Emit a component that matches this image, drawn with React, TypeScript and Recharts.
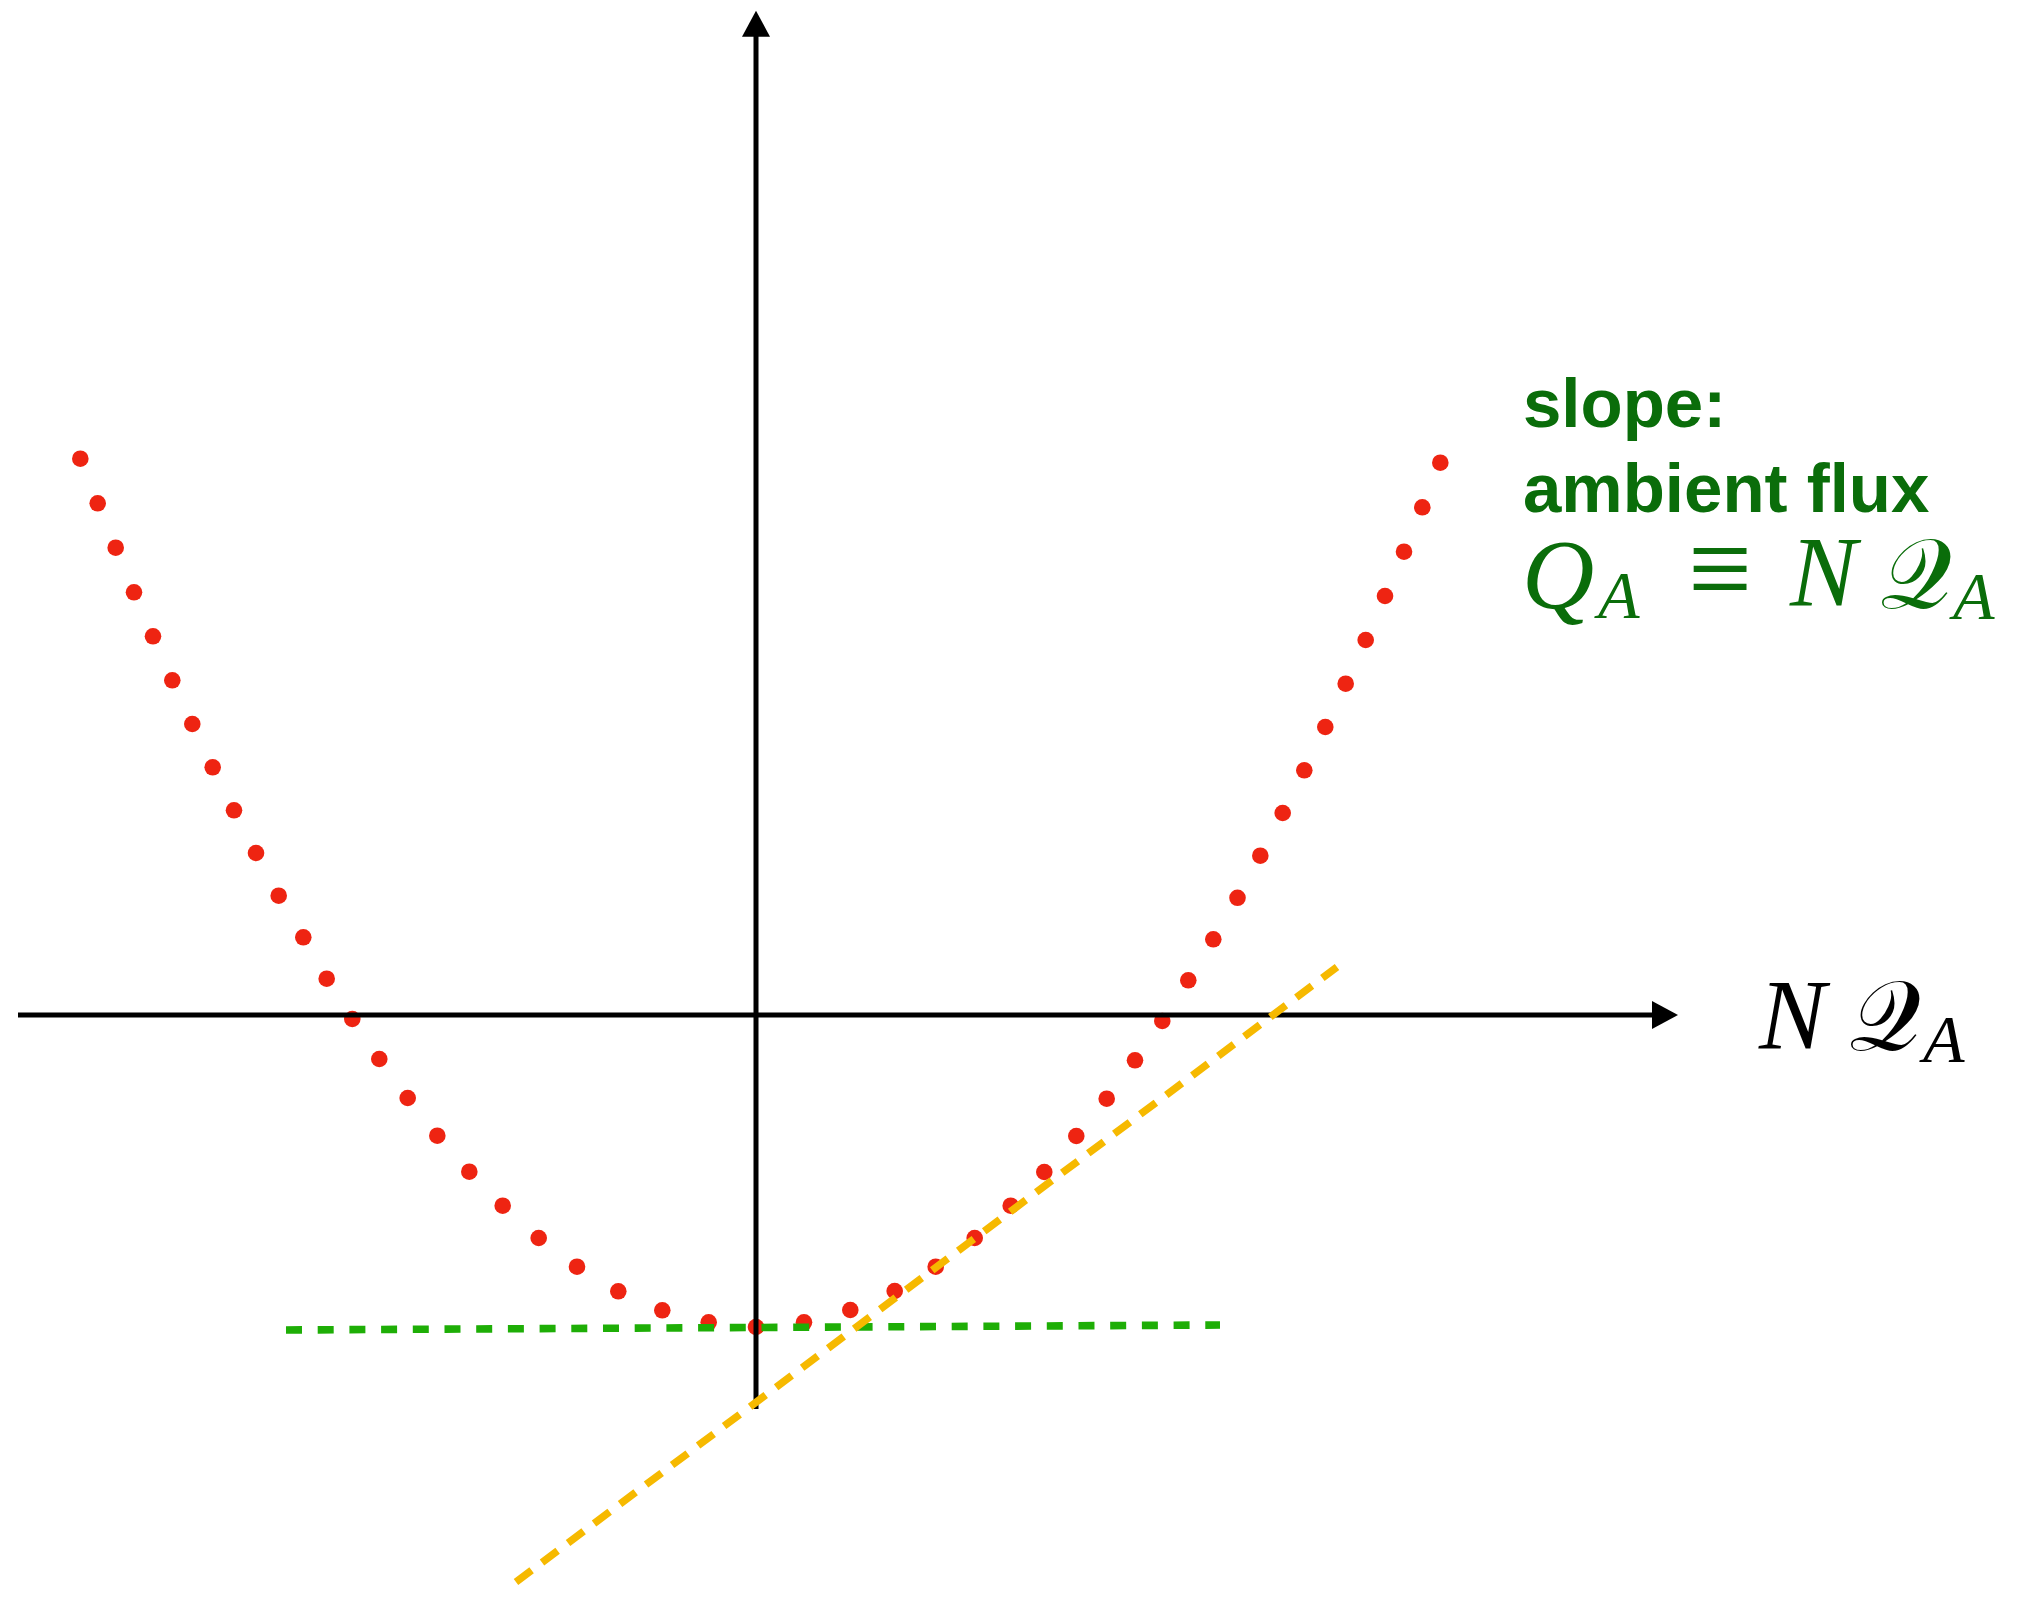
import React from "react";
import { ScatterChart, Scatter, XAxis, YAxis, ReferenceLine } from "recharts";

// Sampled flux curve: horizontal position (NQ_A) and vertical value
const curveX = [
  -6.757, -6.583, -6.403, -6.22, -6.03, -5.837, -5.637, -5.433, -5.22, -5.0,
  -4.773, -4.527, -4.293, -4.037, -3.767, -3.483, -3.187, -2.867, -2.533, -2.173,
  -1.79, -1.377, -0.937, -0.473, 0.0, 0.48, 0.943, 1.387, 1.797, 2.187,
  2.547, 2.883, 3.203, 3.507, 3.79, 4.063, 4.323, 4.573, 4.815, 5.043,
  5.267, 5.483, 5.693, 5.897, 6.097, 6.29, 6.48, 6.663, 6.843,
];
const curveY = [
  5.563, 5.117, 4.673, 4.227, 3.787, 3.347, 2.91, 2.477, 2.047, 1.62,
  1.193, 0.777, 0.363, -0.04, -0.44, -0.83, -1.207, -1.567, -1.907, -2.23,
  -2.517, -2.763, -2.953, -3.073, -3.12, -3.073, -2.95, -2.76, -2.517, -2.23,
  -1.907, -1.57, -1.21, -0.837, -0.453, -0.06, 0.347, 0.757, 1.172, 1.593,
  2.02, 2.447, 2.88, 3.313, 3.75, 4.19, 4.633, 5.077, 5.523,
];

// Flat tangent at the minimum (green) and steeper tangent (orange)
const flatTangent = [
  { x: -4.7, y: -3.15 },
  { x: 4.64, y: -3.1 },
];
const steepTangent = [
  { x: -2.4, y: -5.67 },
  { x: 5.81, y: 0.48 },
];

// Coordinate axes: extents and arrow tips
const xAxisStart = -7.38;
const xAxisTip = 9.22;
const yAxisStart = -3.94;
const yAxisTip = 10.043;

const xDomain = [-7.48, 12.58];
const yDomain = [-5.76, 10.07];

const fluxPoints = curveX.map((x, i) => ({ x, y: curveY[i] }));
const xArrow = [{ x: xAxisTip, y: 0 }];
const yArrow = [{ x: 0, y: yAxisTip }];

const RED = "#ee2412";
const GREEN_LINE = "#1eae06";
const ORANGE = "#f6b900";
const TEXT_GREEN = "#0a6d0a";
const AXIS = "#000000";

const ARROW_LEN = 26;
const ARROW_HALF = 14;

const Dot = (p: any) => <circle cx={p.cx} cy={p.cy} r={8.3} fill={RED} />;

const RightArrow = (p: any) => (
  <polygon
    points={`${p.cx},${p.cy} ${p.cx - ARROW_LEN},${p.cy - ARROW_HALF} ${p.cx - ARROW_LEN},${p.cy + ARROW_HALF}`}
    fill={AXIS}
  />
);

const UpArrow = (p: any) => (
  <polygon
    points={`${p.cx},${p.cy} ${p.cx - ARROW_HALF},${p.cy + ARROW_LEN} ${p.cx + ARROW_HALF},${p.cy + ARROW_LEN}`}
    fill={AXIS}
  />
);

const serif = "'Liberation Serif', 'DejaVu Serif', serif";
const sans = "'Liberation Sans', Arial, Helvetica, sans-serif";

export default function App() {
  return (
    <div style={{ width: 2006, height: 1583 }}>
      <ScatterChart width={2006} height={1583} margin={{ top: 0, right: 0, bottom: 0, left: 0 }}>
        <XAxis type="number" dataKey="x" domain={xDomain} hide allowDataOverflow />
        <YAxis type="number" dataKey="y" domain={yDomain} hide allowDataOverflow />

        <Scatter data={fluxPoints} shape={Dot} isAnimationActive={false} zIndex={100} />

        <ReferenceLine
          segment={flatTangent}
          stroke={GREEN_LINE}
          strokeWidth={7.6}
          strokeDasharray="16 15.7"
          ifOverflow="visible"
          zIndex={200}
        />

        <ReferenceLine
          segment={[
            { x: xAxisStart, y: 0 },
            { x: xAxisTip - 0.24, y: 0 },
          ]}
          stroke={AXIS}
          strokeWidth={5}
          ifOverflow="visible"
          zIndex={300}
        />
        <ReferenceLine
          segment={[
            { x: 0, y: yAxisStart },
            { x: 0, y: yAxisTip - 0.23 },
          ]}
          stroke={AXIS}
          strokeWidth={5}
          ifOverflow="visible"
          zIndex={300}
        />
        <Scatter data={xArrow} shape={RightArrow} isAnimationActive={false} zIndex={310} />
        <Scatter data={yArrow} shape={UpArrow} isAnimationActive={false} zIndex={310} />

        <ReferenceLine
          segment={steepTangent}
          stroke={ORANGE}
          strokeWidth={7.5}
          strokeDasharray="19.5 13"
          ifOverflow="visible"
          zIndex={400}
        />

        <g fill={TEXT_GREEN}>
          <text x={1515} y={419} fontFamily={sans} fontWeight="bold" fontSize={69}>
            slope:
          </text>
          <text x={1515} y={504} fontFamily={sans} fontWeight="bold" fontSize={69}>
            ambient flux
          </text>
          <text x={1514} y={600} fontFamily={serif} fontStyle="italic" fontSize={100}>
            Q
          </text>
          <text x={1590} y={610} fontFamily={serif} fontStyle="italic" fontSize={68}>
            A
          </text>
          <text
            x={1680}
            y={602}
            fontFamily={serif}
            fontSize={124}
            textLength={64}
            lengthAdjust="spacingAndGlyphs"
          >
            ≡
          </text>
          <text x={1782} y={597} fontFamily={serif} fontStyle="italic" fontSize={100}>
            N
          </text>
          <text x={1872} y={600} fontFamily={serif} fontSize={100}>
            𝒬
          </text>
          <text x={1945} y={611} fontFamily={serif} fontStyle="italic" fontSize={68}>
            A
          </text>
        </g>

        <g fill="#000000">
          <text x={1751} y={1040} fontFamily={serif} fontStyle="italic" fontSize={100}>
            N
          </text>
          <text x={1841} y={1042} fontFamily={serif} fontSize={100}>
            𝒬
          </text>
          <text x={1915} y={1054} fontFamily={serif} fontStyle="italic" fontSize={68}>
            A
          </text>
        </g>
      </ScatterChart>
    </div>
  );
}
